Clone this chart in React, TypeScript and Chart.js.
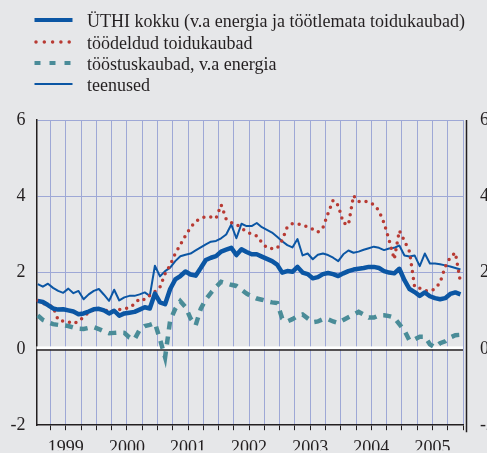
import { useEffect, useRef } from 'react';
import { Chart, registerables } from 'chart.js';
Chart.register(...registerables);

const seriesNames = [
  'ÜTHI kokku (v.a energia ja töötlemata toidukaubad)',
  'töödeldud toidukaubad',
  'tööstuskaubad, v.a energia',
  'teenused',
];

const years = ['1999', '2000', '2001', '2002', '2003', '2004', '2005'];
const yTickValues = [-2, 0, 2, 4, 6];

// monthly values, Jan 1999 .. Dec 2005
const uthi = [
  1.26, 1.23, 1.15, 1.06, 1.03, 1.04, 1.01, 0.98, 0.91, 0.93, 0.98, 1.04,
  1.05, 1.01, 0.93, 1.0, 0.87, 0.93, 0.95, 0.97, 1.03, 1.09, 1.06, 1.45,
  1.22, 1.17, 1.57, 1.82, 1.91, 2.03, 1.95, 1.92, 2.12, 2.33, 2.39, 2.43,
  2.55, 2.6, 2.65, 2.46, 2.61, 2.54, 2.48, 2.48, 2.42, 2.36, 2.3, 2.21,
  2.0, 2.04, 2.02, 2.15, 2.0, 1.96, 1.85, 1.88, 1.96, 1.99, 1.96, 1.91,
  1.98, 2.04, 2.08, 2.1, 2.12, 2.15, 2.15, 2.12, 2.04, 2.0, 1.98, 2.1,
  1.8, 1.57, 1.49, 1.39, 1.48, 1.38, 1.33, 1.3, 1.33, 1.44, 1.48, 1.43,
];
const toit = [
  1.26, 1.19, 1.15, 1.1, 0.76, 0.73, 0.71, 0.66, 0.72, 0.84, 0.96, 1.02,
  1.03, 1.04, 0.97, 1.0, 1.03, 1.05, 1.08, 1.18, 1.32, 1.29, 1.4, 1.5,
  1.62, 1.97, 2.2, 2.5, 2.73, 2.97, 3.18, 3.34, 3.42, 3.47, 3.46, 3.42,
  3.78, 3.4, 3.31, 3.26, 3.17, 3.07, 3.01, 2.96, 2.79, 2.65, 2.63, 2.64,
  2.85, 3.2, 3.28, 3.28, 3.25, 3.2, 3.14, 3.06, 3.18, 3.55, 3.9, 3.76,
  3.3, 3.25, 4.02, 3.86, 3.88, 3.85, 3.78, 3.62, 3.3, 2.85, 2.35, 3.1,
  2.83, 2.55, 1.62, 1.59, 1.53, 1.52, 1.57, 1.74, 2.15, 2.4, 2.52, 1.75,
];
const toostus = [
  0.88, 0.76, 0.7, 0.65, 0.63, 0.62, 0.6, 0.56, 0.53, 0.52, 0.55, 0.57,
  0.52, 0.46, 0.41, 0.42, 0.43, 0.42, 0.3, 0.25, 0.5, 0.6, 0.63, 0.68,
  0.25, -0.22, 0.75, 1.05, 1.25, 1.1, 0.8, 0.62, 1.05, 1.3, 1.47, 1.62,
  1.76, 1.72, 1.68, 1.65, 1.55, 1.45, 1.38, 1.32, 1.29, 1.25, 1.22, 1.2,
  0.8, 0.72, 0.78, 0.86, 0.9, 0.8, 0.7, 0.72, 0.78, 0.78, 0.72, 0.68,
  0.76, 0.83, 0.9, 0.97, 0.9, 0.82, 0.82, 0.88, 0.88, 0.86, 0.82, 0.65,
  0.48, 0.22, 0.25, 0.32, 0.32, 0.12, 0.04, 0.15, 0.2, 0.3, 0.36, 0.37,
];
const teenused = [
  1.7, 1.63, 1.71, 1.6, 1.52, 1.47, 1.58, 1.46, 1.52, 1.3, 1.43, 1.52,
  1.57, 1.42, 1.26, 1.55, 1.27, 1.35, 1.39, 1.39, 1.43, 1.48, 1.39, 2.18,
  1.9, 2.04, 2.13, 2.3, 2.43, 2.47, 2.5, 2.58, 2.66, 2.74, 2.81, 2.83,
  2.9, 3.0, 3.26, 2.9, 3.28, 3.22, 3.22, 3.3, 3.19, 3.12, 3.05, 2.94,
  2.82, 2.72, 2.66, 2.88, 2.45, 2.5, 2.35, 2.47, 2.5, 2.46, 2.39, 2.3,
  2.48, 2.58, 2.52, 2.55, 2.6, 2.64, 2.68, 2.65, 2.59, 2.63, 2.65, 2.71,
  2.45, 2.42, 2.45, 2.17, 2.5, 2.24, 2.24, 2.22, 2.19, 2.16, 2.12, 2.08,
];

const BG = '#e6e7e9';
const GRID = '#9ea8d6';
const INK = '#231f20';
const BLUE = '#0b56a4';
const RED = '#b83a33';
const TEAL = '#4a8c98';
const FONT = 'Liberation Serif, Times New Roman, serif';

// month index -> position in the middle of the month
const toPoints = (arr: number[]) => arr.map((v, i) => ({ x: i + 0.5, y: v }));
const quarterTicks = Array.from({ length: 28 }, (_, i) => (i + 1) * 3);

const decor = {
  id: 'decor',
  beforeDraw(chart: any) {
    const { ctx, width, height } = chart;
    ctx.save();
    ctx.fillStyle = BG;
    ctx.fillRect(0, 0, width, height);
    ctx.restore();
  },
  beforeDatasetsDraw(chart: any) {
    const { ctx, chartArea } = chart;
    const y0 = chart.scales.y.getPixelForValue(0);
    ctx.save();
    ctx.fillStyle = '#ffffff';
    ctx.fillRect(chartArea.left, y0 - 2.5, chartArea.right - chartArea.left, 3);
    ctx.strokeStyle = INK;
    ctx.lineWidth = 1.5;
    ctx.beginPath();
    ctx.moveTo(chartArea.left, y0 + 1.2);
    ctx.lineTo(chartArea.right, y0 + 1.2);
    ctx.stroke();
    ctx.restore();
  },
  afterDraw(chart: any) {
    const { ctx, chartArea } = chart;
    ctx.save();
    // right axis line
    ctx.strokeStyle = INK;
    ctx.lineWidth = 1.5;
    ctx.beginPath();
    ctx.moveTo(chartArea.right + 3.5, chartArea.top);
    ctx.lineTo(chartArea.right + 3.5, chartArea.bottom + 7);
    ctx.stroke();

    // legend
    const rows = [20, 42, 63, 84];
    const x1 = 34.5;
    const x2 = 72.5;
    ctx.font = `18px ${FONT}`;
    ctx.textBaseline = 'alphabetic';
    ctx.textAlign = 'left';
    rows.forEach((ry, i) => {
      ctx.beginPath();
      ctx.setLineDash([]);
      ctx.lineCap = 'butt';
      if (i === 0) {
        ctx.strokeStyle = BLUE;
        ctx.lineWidth = 4;
      } else if (i === 1) {
        ctx.strokeStyle = RED;
        ctx.lineWidth = 3.5;
        ctx.lineCap = 'round';
        ctx.setLineDash([0, 8.3]);
      } else if (i === 2) {
        ctx.strokeStyle = TEAL;
        ctx.lineWidth = 4;
        ctx.setLineDash([6, 9]);
      } else {
        ctx.strokeStyle = BLUE;
        ctx.lineWidth = 2;
      }
      ctx.moveTo(i === 1 ? x1 + 1.5 : x1, ry);
      ctx.lineTo(x2, ry);
      ctx.stroke();
      ctx.setLineDash([]);
      ctx.fillStyle = INK;
      ctx.fillText(seriesNames[i], 87, ry + 6.5);
    });
    ctx.restore();
  },
};

export default function App() {
  const ref = useRef<HTMLCanvasElement | null>(null);
  useEffect(() => {
    document.body.style.margin = '0';
    const canvas = ref.current;
    if (!canvas) return;
    const chart = new Chart(canvas, {
      type: 'line',
      data: {
        datasets: [
          {
            label: seriesNames[0],
            data: toPoints(uthi),
            borderColor: BLUE,
            borderWidth: 4.5,
            pointRadius: 0,
            tension: 0,
            borderJoinStyle: 'round',
          },
          {
            label: seriesNames[1],
            data: toPoints(toit),
            borderColor: RED,
            borderWidth: 3.5,
            borderDash: [0, 7],
            borderCapStyle: 'round',
            pointRadius: 0,
            tension: 0,
          },
          {
            label: seriesNames[2],
            data: toPoints(toostus),
            borderColor: TEAL,
            borderWidth: 4.5,
            borderDash: [8, 7],
            pointRadius: 0,
            tension: 0,
          },
          {
            label: seriesNames[3],
            data: toPoints(teenused),
            borderColor: BLUE,
            borderWidth: 2,
            pointRadius: 0,
            tension: 0,
            borderJoinStyle: 'round',
          },
        ],
      },
      options: {
        animation: false,
        responsive: false,
        devicePixelRatio: 1,
        layout: { padding: { top: 120, left: 0, right: 0, bottom: 0 } },
        plugins: { legend: { display: false }, tooltip: { enabled: false } },
        scales: {
          x: {
            type: 'linear',
            min: 0.25,
            max: 84,
            afterBuildTicks: (s: any) => {
              s.ticks = quarterTicks.map((v) => ({ value: v }));
            },
            afterFit: (s: any) => {
              s.height = 25;
            },
            ticks: {
              autoSkip: false,
              maxRotation: 0,
              padding: 7,
              color: INK,
              font: { family: FONT, size: 18 },
              callback: (v: any) => (v % 12 === 6 ? years[(v - 6) / 12] : ''),
            },
            grid: { color: GRID, lineWidth: 1, tickColor: INK, tickLength: 5, drawTicks: true },
            border: { color: INK, width: 1.5 },
          },
          y: {
            min: -2,
            max: 6,
            afterBuildTicks: (s: any) => {
              s.ticks = yTickValues.map((v) => ({ value: v }));
            },
            afterFit: (s: any) => {
              s.width = 36.5;
            },
            ticks: {
              padding: 11,
              color: INK,
              font: { family: FONT, size: 18 },
            },
            grid: {
              color: (c: any) => (c.tick && (c.tick.value === 0 || c.tick.value === -2) ? 'rgba(0,0,0,0)' : GRID),
              lineWidth: 1,
              drawTicks: false,
            },
            border: { color: INK, width: 1.5 },
          },
          y2: {
            position: 'right',
            min: -2,
            max: 6,
            afterBuildTicks: (s: any) => {
              s.ticks = yTickValues.map((v) => ({ value: v }));
            },
            afterFit: (s: any) => {
              s.width = 24;
            },
            ticks: {
              padding: 17,
              color: INK,
              font: { family: FONT, size: 18 },
            },
            grid: { display: false, drawTicks: false },
            border: { display: false },
          },
        },
      },
      plugins: [decor],
    });
    return () => chart.destroy();
  }, []);
  return (
    <div style={{ position: 'fixed', left: 0, top: 0, width: 487, height: 453, background: BG }}>
      <canvas ref={ref} width={487} height={453} />
    </div>
  );
}
